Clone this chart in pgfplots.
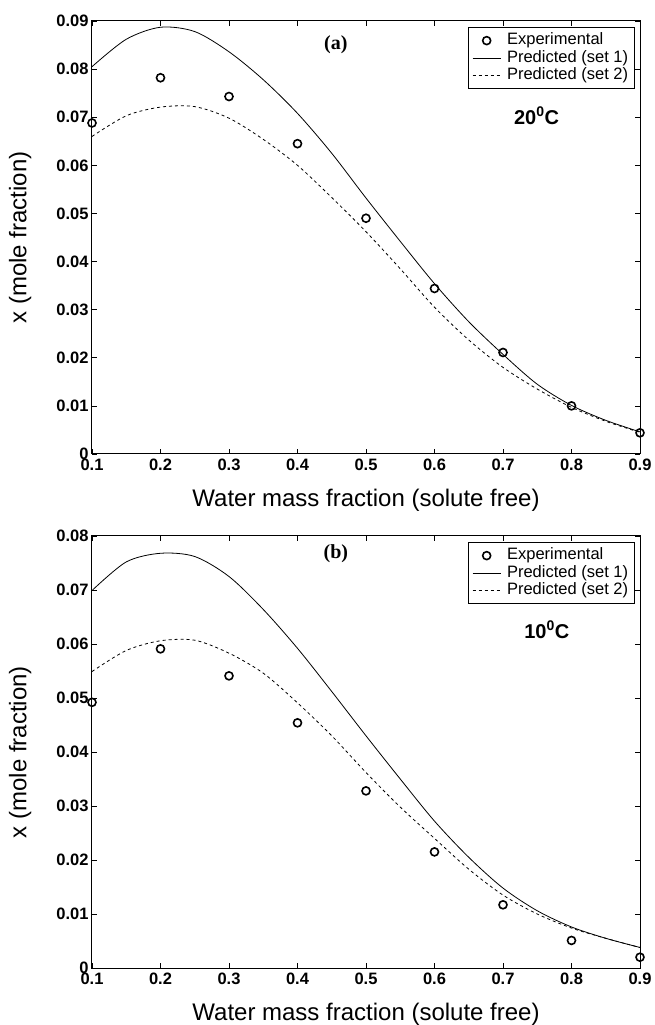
\documentclass[border=0pt]{standalone}
\usepackage{fontspec}
\setmainfont{Liberation Sans}
\newfontfamily\timesf{Liberation Serif}
\usepackage{pgfplots}
\pgfplotsset{compat=1.18}

\pgfplotstableread{
x y
0.1 0.0688
0.2 0.0782
0.3 0.0743
0.4 0.0645
0.5 0.0490
0.6 0.0344
0.7 0.0211
0.8 0.0100
0.9 0.0044
}\expA
\pgfplotstableread{
x y
0.10 0.0805
0.15 0.0862
0.20 0.0887
0.25 0.0878
0.30 0.0836
0.35 0.0778
0.40 0.0708
0.45 0.0625
0.50 0.0532
0.55 0.0442
0.60 0.0354
0.65 0.0275
0.70 0.0207
0.75 0.0145
0.80 0.0101
0.85 0.0070
0.90 0.0046
}\setOneA
\pgfplotstableread{
x y
0.10 0.0660
0.15 0.0703
0.20 0.0721
0.25 0.0722
0.30 0.0698
0.35 0.0654
0.40 0.0600
0.45 0.0533
0.50 0.0462
0.55 0.0385
0.60 0.0305
0.65 0.0237
0.70 0.0180
0.75 0.0135
0.80 0.0097
0.85 0.0068
0.90 0.0045
}\setTwoA
\pgfplotstableread{
x y
0.1 0.0492
0.2 0.0591
0.3 0.0541
0.4 0.0454
0.5 0.0328
0.6 0.0215
0.7 0.0117
0.8 0.0051
0.9 0.0020
}\expB
\pgfplotstableread{
x y
0.10 0.0699
0.15 0.0752
0.20 0.0768
0.25 0.0762
0.30 0.0725
0.35 0.0664
0.40 0.0592
0.45 0.0512
0.50 0.0430
0.55 0.0350
0.60 0.0272
0.65 0.0205
0.70 0.0148
0.75 0.0106
0.80 0.0076
0.85 0.0055
0.90 0.0038
}\setOneB
\pgfplotstableread{
x y
0.10 0.0549
0.15 0.0588
0.20 0.0606
0.25 0.0607
0.30 0.0583
0.35 0.0546
0.40 0.0491
0.45 0.0430
0.50 0.0362
0.55 0.0298
0.60 0.0240
0.65 0.0183
0.70 0.0135
0.75 0.0100
0.80 0.0074
0.85 0.0055
0.90 0.0038
}\setTwoB

\pgfplotsset{
  panel/.style={
    scale only axis, width=548pt,
    xmin=0.1, xmax=0.9, ymin=0,
    xtick={0.1,0.2,0.3,0.4,0.5,0.6,0.7,0.8,0.9},
    scaled y ticks=false, scaled x ticks=false,
    tick align=inside, major tick length=5pt,
    tick style={black, line width=0.6pt},
    axis line style={line width=1pt},
    clip=false,
    ticklabel style={font=\fontsize{16.5}{19}\selectfont\bfseries},
    /pgf/number format/assume math mode=true,
    xticklabel style={/pgf/number format/fixed, /pgf/number format/precision=1, yshift=-1pt},
    yticklabel style={/pgf/number format/fixed, /pgf/number format/precision=2},
    xlabel={Water mass fraction (solute free)},
    ylabel={x (mole fraction)},
    every axis x label/.style={at={(axis description cs:0.5,0)}, anchor=center, yshift=-46pt, font=\fontsize{24}{27}\selectfont},
    every axis y label/.style={at={(axis description cs:-0.131,0.5)}, anchor=center, rotate=90, font=\fontsize{24}{27}\selectfont},
    legend style={at={(axis description cs:0.99,0.985)}, anchor=north east,
      font=\fontsize{16.5}{18}\selectfont, draw=black, line width=0.8pt,
      inner xsep=4pt, inner ysep=4pt, row sep=0pt,
      nodes={inner ysep=1.5pt, text height=11.5pt, text depth=3pt},
      /tikz/every odd column/.append style={column sep=4pt}},
    legend cell align=left,
  },
  expstyle/.style={only marks, mark=o, mark size=4pt, black, line width=1.6pt,
    legend image code/.code={\draw[##1] plot coordinates {(14pt,0pt)};}},
  s1style/.style={black, line width=0.8pt, smooth,
    legend image code/.code={\draw[##1] (0pt,0pt) -- (28pt,0pt);}},
  s2style/.style={black, line width=0.8pt, smooth, dash pattern=on 3pt off 3pt,
    legend image code/.code={\draw[##1] (0pt,0pt) -- (28pt,0pt);}},
}

\begin{document}
\begin{tikzpicture}
\useasboundingbox (0,0) rectangle (654pt,1025pt);
\begin{axis}[panel, at={(92pt,571pt)}, anchor=south west, height=433pt,
  ymax=0.09, ytick={0,0.01,0.02,0.03,0.04,0.05,0.06,0.07,0.08,0.09}]
\addplot[expstyle] table[x=x,y=y] {\expA};
\addlegendentry{Experimental}
\addplot[s1style] table[x=x,y=y] {\setOneA};
\addlegendentry{Predicted (set 1)}
\addplot[s2style] table[x=x,y=y] {\setTwoA};
\addlegendentry{Predicted (set 2)}
\node[font=\timesf\bfseries\fontsize{20}{22}\selectfont] at (axis cs:0.456,0.0851) {(a)};
\node[font=\bfseries\fontsize{20}{22}\selectfont] at (axis cs:0.749,0.0703) {20\textsuperscript{0}C};
\end{axis}
\begin{axis}[panel, at={(92pt,57pt)}, anchor=south west, height=432pt,
  ymax=0.08, ytick={0,0.01,0.02,0.03,0.04,0.05,0.06,0.07,0.08}]
\addplot[expstyle] table[x=x,y=y] {\expB};
\addlegendentry{Experimental}
\addplot[s1style] table[x=x,y=y] {\setOneB};
\addlegendentry{Predicted (set 1)}
\addplot[s2style] table[x=x,y=y] {\setTwoB};
\addlegendentry{Predicted (set 2)}
\node[font=\timesf\bfseries\fontsize{20}{22}\selectfont] at (axis cs:0.456,0.0768) {(b)};
\node[font=\bfseries\fontsize{20}{22}\selectfont] at (axis cs:0.764,0.0626) {10\textsuperscript{0}C};
\end{axis}
\end{tikzpicture}
\end{document}
